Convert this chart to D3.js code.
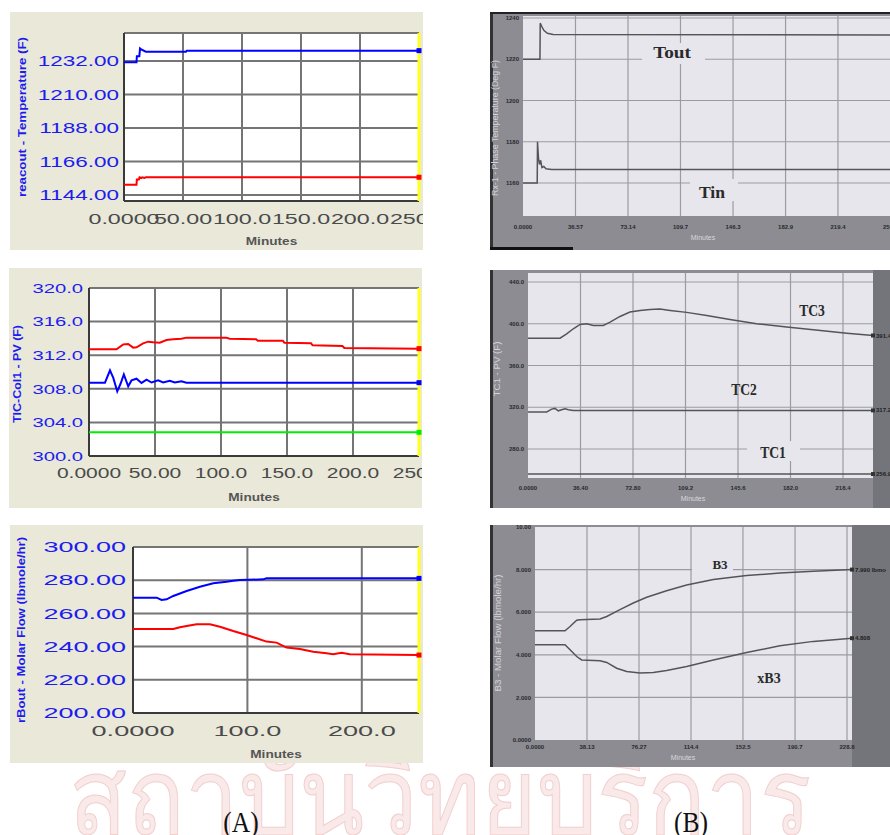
<!DOCTYPE html>
<html><head><meta charset="utf-8">
<script src="https://cdn.jsdelivr.net/npm/d3@7"></script>
<style>body{margin:0;background:#fff}svg{display:block}</style>
</head><body><svg id="c" width="890" height="835"></svg>
<script>
// ---------------- DATA ----------------
// (A) HYSYS panels, time in minutes
const a1Blue = [[0,1231.2],[10.6,1231.2],[10.9,1235.2],[13.0,1235.2],[13.6,1240.3],[15.0,1239.4],[18.5,1238.1],[52.5,1238.1],[53.2,1238.8],[250,1238.8]];
const a1Red  = [[0,1150.6],[10.6,1150.6],[10.9,1154.2],[12.6,1154.2],[13.2,1155.6],[14.6,1155.1],[15.6,1155.6],[17.2,1155.1],[18.4,1155.6],[250,1155.6]];
const a1YTicks = [1144,1166,1188,1210,1232];
const a1YLabels = ["1144.00","1166.00","1188.00","1210.00","1232.00"];
const a1XTicks = [0,50,100,150,200,250];
const a1XLabels = ["0.0000","50.00","100.0","150.0","200.0","250.0"];

const a2Red = [[0,312.70],[20.9,312.70],[25.9,313.29],[29.7,313.33],[33.5,312.90],[36,312.94],[41,313.41],[44.8,313.61],[48.6,313.53],[53.6,313.49],[58.7,313.81],[63.7,313.89],[70,313.97],[73.8,314.09],[104,314.09],[106.5,313.97],[126.6,313.89],[127.9,313.73],[146.8,313.73],[148,313.49],[168.2,313.41],[169.4,313.17],[192,313.10],[193.4,312.86],[250,312.78]];
const a2Blue = [[0,308.73],[12.1,308.73],[15.9,310.2],[18.4,309.3],[21.4,307.7],[23.9,308.6],[26.4,309.7],[29.7,308.3],[32.2,309.0],[36,309.2],[39.8,308.7],[43.6,309.1],[47.4,308.75],[52.4,309.0],[56.2,308.75],[61.2,308.95],[65,308.75],[70,308.9],[73.8,308.73],[250,308.73]];
const a2Green = [[0,302.82],[250,302.82]];
const a2YTicks = [300,304,308,312,316,320];
const a2YLabels = ["300.0","304.0","308.0","312.0","316.0","320.0"];
const a2XTicks = [0,50,100,150,200,250];
const a2XLabels = ["0.0000","50.00","100.0","150.0","200.0","250.0"];

const a3Blue = [[0,269.5],[20.7,269.5],[25,268.1],[29.4,268.5],[35.2,270.5],[46.9,273.5],[58.5,276.1],[70.2,278.1],[81.8,279.1],[87.6,279.7],[93.4,280.1],[113.8,280.5],[116.7,281.1],[250,281.1]];
const a3Red = [[0,250.6],[35.2,250.6],[41,251.6],[46.9,252.4],[55.6,253.4],[67.2,253.4],[76,252.0],[87.6,249.4],[99.3,247.0],[108,245.0],[116.7,243.0],[125.5,242.4],[134.2,239.4],[145.9,238.6],[157.5,236.9],[169.2,236.0],[175,235.4],[182.3,236.3],[189.5,235.4],[250,234.9]];
const a3YTicks = [200,220,240,260,280,300];
const a3YLabels = ["200.00","220.00","240.00","260.00","280.00","300.00"];
const a3XTicks = [0,100,200];
const a3XLabels = ["0.0000","100.0","200.0"];

// (B) scanned panels
const b1Tout = [[0,1220],[11.8,1220],[12.0,1237.5],[13,1236],[14.5,1234],[17,1232.6],[21,1232],[256,1231.8]];
const b1Tin  = [[0,1160],[9.9,1160],[10.1,1180],[10.8,1172],[11.5,1169],[12.3,1171],[13.2,1167.5],[14.5,1168],[16,1166.9],[20,1166.6],[256,1166.6]];
const b1YTicks = [1160,1180,1200,1220,1240];
const b1YLabels = ["1160","1180","1200","1220","1240"];
const b1XTicks = [0,36.57,73.14,109.7,146.3,182.9,219.4,256.0];
const b1XLabels = ["0.0000","36.57","73.14","109.7","146.3","182.9","219.4","256.0"];

const b2TC3 = [[0,386.2],[22.2,386.2],[26.8,390.4],[31.4,395.2],[36.1,399.3],[40.7,400],[45.3,398.4],[52.2,398.4],[56.9,401.6],[63.8,407],[70.7,411.2],[77.7,412.8],[84.6,413.75],[91.5,414.1],[98.5,412.8],[110,410.9],[123.9,408],[140,404.1],[158.5,400],[179.3,396.8],[197.8,394.2],[221,391],[239.3,388.75]];
const b2TC2 = [[0,315.5],[13,315.5],[16.4,318.2],[18.7,318.9],[21,316.6],[23.3,317.6],[25.7,318.6],[28,317.6],[31.4,317],[239.3,317]];
const b2TC1 = [[0,256],[239.3,256]];
const b2YTicks = [280,320,360,400,440];
const b2YLabels = ["280.0","320.0","360.0","400.0","440.0"];
const b2XTicks = [0,36.4,72.8,109.2,145.6,182.0,218.4];
const b2XLabels = ["0.0000","36.40","72.80","109.2","145.6","182.0","218.4"];
const b2EndLabels = ["391.4","317.2","256.9"];

const b3B3  = [[0,5.13],[22,5.13],[25.7,5.33],[30.6,5.62],[33,5.65],[47.7,5.68],[52.6,5.80],[62.3,6.12],[72.1,6.43],[81.9,6.70],[96.5,7.01],[111.2,7.28],[130.8,7.53],[155.2,7.72],[179.6,7.84],[204.1,7.92],[232.4,8.0]];
const b3xB3 = [[0,4.47],[22,4.47],[25.7,4.24],[30.6,3.92],[34.2,3.76],[47.7,3.72],[52.6,3.64],[59.9,3.37],[67.2,3.22],[77,3.14],[86.8,3.17],[96.5,3.26],[111.2,3.45],[130.8,3.76],[155.2,4.11],[179.6,4.42],[204.1,4.63],[232.4,4.78]];
const b3YTicks = [0,2,4,6,8,10];
const b3YLabels = ["0.0000","2.000","4.000","6.000","8.000","10.00"];
const b3XTicks = [0,38.13,76.27,114.4,152.5,190.7,228.8];
const b3XLabels = ["0.0000","38.13","76.27","114.4","152.5","190.7","228.8"];
const b3EndLabels = ["7.990 lbmo","4.808"];

// ---------------- DRAW ----------------
const FONT = '"Liberation Sans", Arial, Helvetica, sans-serif';
const SERIF = '"Liberation Serif", "Times New Roman", serif';
const svg = d3.select('#c');
const defs = svg.append('defs');

function txt(g, x, y, s, o) {
  const t = g.append('text')
    .attr('transform', `translate(${x},${y})` + (o.rot ? ` rotate(${o.rot})` : '') + ` scale(${o.sx||1},${o.sy||1})`)
    .attr('text-anchor', o.anchor || 'start')
    .attr('dy', o.dy || '0.35em')
    .style('font-family', o.font || FONT)
    .style('font-size', o.size + 'px')
    .style('font-weight', o.weight || 'normal')
    .attr('fill', o.fill || '#000')
    .text(s);
  if (o.len) t.attr('textLength', o.len).attr('lengthAdjust', 'spacingAndGlyphs');
  return t;
}

// watermark (behind)
txt(svg, 440, 797, "สถาบันวิทยบริการ", {anchor:'middle', size:106, fill:'#fae9e9', font:'"Noto Sans", "DejaVu Sans", sans-serif', len:742})
  .attr('stroke', '#f1cfcf').attr('stroke-width', 1);

function hysys(c) {
  const [bx, by, bw, bh] = c.box;
  const p = c.plot;
  defs.append('clipPath').attr('id', c.id).append('rect').attr('x', bx).attr('y', by).attr('width', bw).attr('height', bh);
  const g = svg.append('g').attr('clip-path', `url(#${c.id})`);
  g.append('rect').attr('x', bx).attr('y', by).attr('width', bw).attr('height', bh).attr('fill', '#e9e8d9');
  const x = d3.scaleLinear().domain([0, 250]).range([p.l, p.r]);
  const y = d3.scaleLinear().domain(c.yDomain).range([p.b, p.t]);
  g.append('rect').attr('x', p.l).attr('y', p.t).attr('width', p.r - p.l).attr('height', p.b - p.t).attr('fill', '#fff');
  c.yTicks.forEach(v => g.append('line').attr('x1', p.l).attr('x2', p.r).attr('y1', y(v)).attr('y2', y(v)).attr('stroke', '#757575').attr('stroke-width', 2));
  c.xTicks.forEach(v => g.append('line').attr('x1', x(v)).attr('x2', x(v)).attr('y1', p.t).attr('y2', p.b).attr('stroke', '#757575').attr('stroke-width', 2));
  g.append('line').attr('x1', p.l).attr('x2', p.r).attr('y1', p.t).attr('y2', p.t).attr('stroke', '#757575').attr('stroke-width', 2);
  g.append('line').attr('x1', p.l).attr('x2', p.r).attr('y1', p.b).attr('y2', p.b).attr('stroke', '#3a3a3a').attr('stroke-width', 2);
  g.append('line').attr('x1', p.l).attr('x2', p.l).attr('y1', p.t).attr('y2', p.b).attr('stroke', '#3a3a3a').attr('stroke-width', 2);
  g.append('line').attr('x1', x(250)).attr('x2', x(250)).attr('y1', p.t).attr('y2', p.b).attr('stroke', '#ffff20').attr('stroke-width', 3);
  const line = d3.line().x(d => x(d[0])).y(d => y(d[1]));
  c.series.forEach(s => {
    g.append('path').datum(s.data).attr('d', line).attr('fill', 'none').attr('stroke', s.color).attr('stroke-width', 2);
    const last = s.data[s.data.length - 1];
    g.append('rect').attr('x', x(last[0]) - 2.5).attr('y', y(last[1]) - 2.5).attr('width', 5).attr('height', 5).attr('fill', s.color);
  });
  c.yTicks.forEach((v, i) => txt(g, c.yLabelRight, y(v), c.yLabels[i], {anchor:'end', size:c.ySize, sx:c.ySx, fill:'#1c1cf0'}));
  c.xTicks.forEach((v, i) => txt(g, x(v), c.xLabelY, c.xLabels[i], {anchor:'middle', size:c.xSize, sx:c.xSx, fill:'#4a4a4a'}));
  txt(g, (p.l + p.r) / 2, c.minutesY, 'Minutes', {anchor:'middle', size:10.5, sx:1.3, weight:'bold', fill:'#555'});
  txt(g, c.titleX, c.titleY, c.title, {anchor:'middle', rot:-90, size:10, weight:'bold', fill:'#1c1cf0', len:c.titleLen});
}

hysys({id:'a1', box:[10,12,413,238], plot:{l:124,r:419,t:33,b:201}, yDomain:[1140,1250.4],
  yTicks:a1YTicks, yLabels:a1YLabels, xTicks:a1XTicks, xLabels:a1XLabels,
  series:[{data:a1Blue,color:'#0000ff'},{data:a1Red,color:'#ff0000'}],
  yLabelRight:119, ySize:15, ySx:1.5, xLabelY:219, xSize:15, xSx:1.55, minutesY:241,
  title:'reacout - Temperature (F)', titleX:22, titleY:117, titleLen:160});

hysys({id:'a2', box:[9,268,413,240], plot:{l:89,r:419,t:288,b:456}, yDomain:[300,320],
  yTicks:a2YTicks, yLabels:a2YLabels, xTicks:a2XTicks, xLabels:a2XLabels,
  series:[{data:a2Red,color:'#ff0000'},{data:a2Blue,color:'#0000ff'},{data:a2Green,color:'#00ee00'}],
  yLabelRight:83, ySize:13.5, ySx:1.5, xLabelY:473, xSize:14, xSx:1.5, minutesY:497,
  title:'TIC-Col1 - PV (F)', titleX:17, titleY:374, titleLen:98});

hysys({id:'a3', box:[10,525,413,238], plot:{l:133,r:419,t:547,b:713}, yDomain:[200,300],
  yTicks:a3YTicks, yLabels:a3YLabels, xTicks:a3XTicks, xLabels:a3XLabels,
  series:[{data:a3Blue,color:'#0000ff'},{data:a3Red,color:'#ff0000'}],
  yLabelRight:126, ySize:15, ySx:1.8, xLabelY:731, xSize:15.5, xSx:1.75, minutesY:754,
  title:'rBout - Molar Flow (lbmole/hr)', titleX:21, titleY:630, titleLen:186});

function scan(c) {
  const [bx, by, bw, bh] = c.box;
  const p = c.plot;
  defs.append('clipPath').attr('id', c.id).append('rect').attr('x', bx).attr('y', by).attr('width', bw).attr('height', bh);
  const g = svg.append('g').attr('clip-path', `url(#${c.id})`);
  g.append('rect').attr('x', bx).attr('y', by).attr('width', bw).attr('height', bh).attr('fill', '#8c8c92');
  if (c.rightBand) g.append('rect').attr('x', p.r).attr('y', by).attr('width', bx + bw - p.r).attr('height', bh).attr('fill', '#74747b');
  g.append('rect').attr('x', bx).attr('y', by).attr('width', 3).attr('height', bh).attr('fill', '#333');
  g.append('rect').attr('x', p.l).attr('y', p.t).attr('width', p.r - p.l).attr('height', p.b - p.t).attr('fill', '#e6e6ec');
  const x = d3.scaleLinear().domain(c.xDomain).range(c.xRange);
  const y = d3.scaleLinear().domain(c.yDomain).range(c.yRange);
  c.yTicks.forEach(v => { const yy = y(v); if (yy > p.t + 1 && yy < p.b - 1) g.append('line').attr('x1', p.l).attr('x2', p.r).attr('y1', yy).attr('y2', yy).attr('stroke', '#9b9ba3').attr('stroke-width', 1.2); });
  c.xTicks.forEach(v => { const xx = x(v); if (xx > p.l + 1 && xx < p.r - 1) g.append('line').attr('x1', xx).attr('x2', xx).attr('y1', p.t).attr('y2', p.b).attr('stroke', '#9b9ba3').attr('stroke-width', 1.2); });
  const line = d3.line().x(d => x(d[0])).y(d => y(d[1]));
  c.series.forEach(s => g.append('path').datum(s).attr('d', line).attr('fill', 'none').attr('stroke', '#555558').attr('stroke-width', 1.5));
  c.notes.forEach(n => {
    g.append('rect').attr('x', n.gx).attr('y', n.gy).attr('width', n.gw).attr('height', n.gh).attr('fill', '#e6e6ec');
    txt(g, n.x, n.y, n.t, {anchor:'middle', size:n.size, sx:n.sx || 1, font:SERIF, weight:'bold', fill:'#2a2a2a'});
  });
  c.yTicks.forEach((v, i) => txt(g, p.l - 4, y(v), c.yLabels[i], {anchor:'end', size:6, weight:'bold', fill:'#2a2a2e'}));
  c.xTicks.forEach((v, i) => txt(g, x(v), c.xLabelY, c.xLabels[i], {anchor:'middle', size:6, weight:'bold', fill:'#2a2a2e'}));
  txt(g, c.minX, c.minY, 'Minutes', {anchor:'middle', size:7, fill:'#d8d8dc'});
  txt(g, c.titleX, c.titleY, c.title, {anchor:'middle', rot:-90, size:9, fill:'#d4d4d8', len:c.titleLen});
  (c.ends || []).forEach((e, i) => {
    const last = c.series[i][c.series[i].length - 1];
    g.append('rect').attr('x', p.r - 2).attr('y', y(last[1]) - 2).attr('width', 4).attr('height', 4).attr('fill', '#333');
    txt(g, p.r + 3, y(last[1]), e, {size:6, weight:'bold', fill:'#1e1e22'});
  });
  return g;
}

const gb1 = scan({id:'b1', box:[490,12,400,238], plot:{l:523,r:890,t:16,b:216},
  xDomain:[0,256], xRange:[523,890.5], yDomain:[1160,1240], yRange:[183,18],
  yTicks:b1YTicks, yLabels:b1YLabels, xTicks:b1XTicks, xLabels:b1XLabels,
  series:[b1Tout, b1Tin],
  notes:[{t:'Tout', x:672, y:52, size:16, sx:1.2, gx:642, gy:43, gw:63, gh:21},
         {t:'Tin', x:712, y:192, size:16, sx:1.1, gx:690, gy:179, gw:48, gh:22}],
  xLabelY:227, minX:703, minY:238, title:'Rx-1 - Phase Temperature (Deg F)', titleX:495, titleY:128, titleLen:136});
gb1.append('rect').attr('x', 490).attr('y', 12).attr('width', 400).attr('height', 2).attr('fill', '#222');
gb1.append('rect').attr('x', 490).attr('y', 247).attr('width', 83).attr('height', 3).attr('fill', '#111');

scan({id:'b2', box:[490,270,400,238], plot:{l:528,r:873,t:273,b:478}, rightBand:true,
  xDomain:[0,218.4], xRange:[528,843], yDomain:[280,440], yRange:[449,282],
  yTicks:b2YTicks, yLabels:b2YLabels, xTicks:b2XTicks, xLabels:b2XLabels,
  series:[b2TC3, b2TC2, b2TC1], ends:b2EndLabels,
  notes:[{t:'TC3', x:812, y:310, size:16, sx:0.85, gx:800, gy:303, gw:1, gh:1},
         {t:'TC2', x:744, y:389, size:16, sx:0.85, gx:730, gy:383, gw:1, gh:1},
         {t:'TC1', x:773, y:452, size:16, sx:0.85, gx:747, gy:441, gw:53, gh:20}],
  xLabelY:488, minX:693, minY:499, title:'TC1 - PV (F)', titleX:497, titleY:369, titleLen:55});

scan({id:'b3', box:[490,525,400,242], plot:{l:535,r:852,t:527,b:740}, rightBand:true,
  xDomain:[0,228.8], xRange:[535,847], yDomain:[0,10], yRange:[740,527],
  yTicks:b3YTicks, yLabels:b3YLabels, xTicks:b3XTicks, xLabels:b3XLabels,
  series:[b3B3, b3xB3], ends:b3EndLabels,
  notes:[{t:'B3', x:720, y:564, size:13, gx:692, gy:556, gw:41, gh:18},
         {t:'xB3', x:769, y:678, size:14, gx:757, gy:672, gw:1, gh:1}],
  xLabelY:747, minX:683, minY:758, title:'B3 - Molar Flow (lbmole/hr)', titleX:498, titleY:633, titleLen:117});

// captions
txt(svg, 241, 821, '(A)', {anchor:'middle', size:30, sx:0.85, font:SERIF, fill:'#111'});
txt(svg, 691, 821, '(B)', {anchor:'middle', size:30, sx:0.85, font:SERIF, fill:'#111'});
</script></body></html>
